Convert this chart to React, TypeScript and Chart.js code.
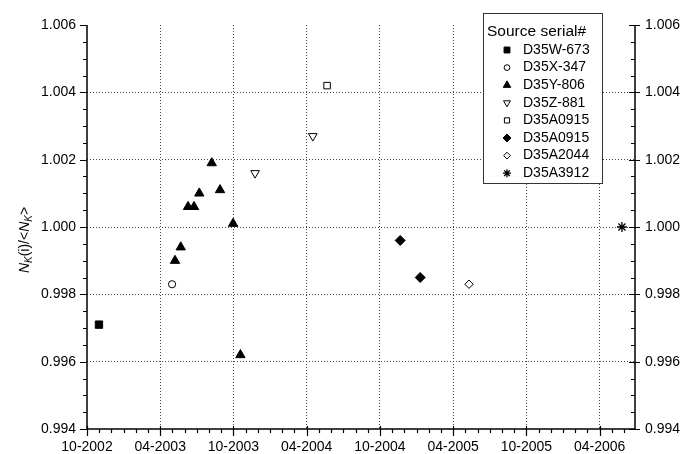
import React, { useEffect, useRef } from 'react';
import { Chart, registerables } from 'chart.js';
import { drawPoint } from 'chart.js/helpers';

Chart.register(...registerables);

// x values are months counted from October 2002
const xTickLabels = ['10-2002', '04-2003', '10-2003', '04-2004', '10-2004', '04-2005', '10-2005', '04-2006'];
const xMin = 0;
const xMax = 44.9;
const xMajorStep = 6;
const xMinorStep = 1;

const yMin = 0.994;
const yMax = 1.006;
const yMajorStep = 0.002;
const yMinorStep = 0.0005;

const seriesNames = ['D35W-673', 'D35X-347', 'D35Y-806', 'D35Z-881', 'D35A0915', 'D35A0915', 'D35A2044', 'D35A3912'];

const w673X = [0.98];
const w673Y = [0.9971];

const x347X = [6.97];
const x347Y = [0.9983];

const y806X = [7.21, 7.68, 8.28, 8.77, 9.2, 10.22, 10.9, 11.97, 12.57];
const y806Y = [0.999, 0.9994, 1.0006, 1.0006, 1.001, 1.0019, 1.0011, 1.0001, 0.9962];

const z881X = [13.77, 18.5];
const z881Y = [1.0016, 1.0027];

const a0915openX = [19.67];
const a0915openY = [1.0042];

const a0915fillX = [25.66, 27.3];
const a0915fillY = [0.9996, 0.9985];

const a2044X = [31.3];
const a2044Y = [0.9983];

const a3912X = [43.83];
const a3912Y = [1.0];

const pts = (xs: number[], ys: number[]) => xs.map((x, i) => ({ x, y: ys[i] }));

const FONT = '"Liberation Sans", Arial, Helvetica, sans-serif';

const near = (a: number, b: number) => Math.abs(a - b) < 1e-7;

const axesPlugin = {
  id: 'axesFrame',
  afterDatasetsDraw(chart: any) {
    const { ctx, chartArea } = chart;
    const { left, right, top, bottom } = chartArea;
    const xs = chart.scales.x;
    const ys = chart.scales.y;
    ctx.save();
    ctx.strokeStyle = '#000';
    ctx.lineWidth = 1.5;
    ctx.beginPath();
    ctx.moveTo(left, top);
    ctx.lineTo(left, bottom);
    ctx.lineTo(right, bottom);
    ctx.moveTo(right, top);
    ctx.lineTo(right, bottom);
    ctx.stroke();
    ctx.lineWidth = 1.2;
    ctx.beginPath();
    const nY = Math.round((yMax - yMin) / yMinorStep);
    const perMajorY = Math.round(yMajorStep / yMinorStep);
    for (let i = 0; i <= nY; i++) {
      const v = yMin + i * yMinorStep;
      const py = Math.round(ys.getPixelForValue(v)) + 0.5;
      const major = i % perMajorY === 0;
      // left axis: outward
      ctx.moveTo(left - (major ? 7 : 4), py);
      ctx.lineTo(left, py);
      // right axis: inward, majors both sides
      ctx.moveTo(right - (major ? 6 : 4), py);
      ctx.lineTo(right + (major ? 5 : 0), py);
    }
    const nX = Math.floor((xMax - xMin) / xMinorStep + 1e-6);
    const perMajorX = Math.round(xMajorStep / xMinorStep);
    for (let i = 0; i <= nX; i++) {
      const v = xMin + i * xMinorStep;
      const px = Math.round(xs.getPixelForValue(v)) + 0.5;
      const major = i % perMajorX === 0;
      ctx.moveTo(px, bottom - (major ? 3 : 0));
      ctx.lineTo(px, bottom + (major ? 7 : 4));
    }
    ctx.stroke();
    ctx.restore();
  },
};

const yTitlePlugin = {
  id: 'yTitle',
  afterDraw(chart: any) {
    const { ctx } = chart;
    const pieces = [
      { t: 'N', italic: true, sub: false },
      { t: 'K', italic: true, sub: true },
      { t: '(i)/<', italic: false, sub: false },
      { t: 'N', italic: true, sub: false },
      { t: 'K', italic: true, sub: true },
      { t: '>', italic: false, sub: false },
    ];
    const fontFor = (p: any) => `${p.italic ? 'italic ' : ''}${p.sub ? 10 : 14}px ${FONT}`;
    ctx.save();
    let total = 0;
    const widths = pieces.map((p) => {
      ctx.font = fontFor(p);
      const w = ctx.measureText(p.t).width;
      total += w;
      return w;
    });
    ctx.translate(29, 240);
    ctx.rotate(-Math.PI / 2);
    ctx.fillStyle = '#000';
    ctx.textBaseline = 'alphabetic';
    ctx.textAlign = 'left';
    let cx = -total / 2;
    pieces.forEach((p, i) => {
      ctx.font = fontFor(p);
      ctx.fillText(p.t, cx, p.sub ? 3 : 0);
      cx += widths[i];
    });
    ctx.restore();
  },
};

const legendPlugin = {
  id: 'boxLegend',
  afterDraw(chart: any) {
    const { ctx } = chart;
    const bx = 483.5, by = 13.5, bw = 119, bh = 170;
    ctx.save();
    ctx.fillStyle = '#fff';
    ctx.fillRect(bx, by, bw, bh);
    ctx.strokeStyle = '#333';
    ctx.lineWidth = 1;
    ctx.strokeRect(bx, by, bw, bh);
    ctx.fillStyle = '#000';
    ctx.textBaseline = 'middle';
    ctx.textAlign = 'left';
    ctx.font = `15.5px ${FONT}`;
    ctx.fillText('Source serial#', 487, 32);
    ctx.font = `14px ${FONT}`;
    chart.data.datasets.forEach((ds: any, i: number) => {
      const cy = 50 + i * 17.6;
      ctx.fillStyle = '#000';
      ctx.fillText(ds.label, 523, cy);
      ctx.save();
      ctx.fillStyle = ds.pointBackgroundColor;
      ctx.strokeStyle = ds.pointBorderColor;
      ctx.lineWidth = ds.pointBorderWidth;
      drawPoint(ctx, { pointStyle: ds.pointStyle, rotation: ds.pointRotation || 0, radius: ds.pointRadius * 0.8, borderWidth: ds.pointBorderWidth }, 507, cy);
      ctx.restore();
    });
    ctx.restore();
  },
};

function makeDataset(label: string, data: any[], style: string, radius: number, filled: boolean, rotation = 0, bw = 1) {
  return {
    label,
    data,
    pointStyle: style,
    pointRadius: radius,
    pointHoverRadius: radius,
    pointRotation: rotation,
    pointBackgroundColor: filled ? '#000' : '#fff',
    pointBorderColor: '#000',
    pointBorderWidth: bw,
    showLine: false,
  };
}

export default function App() {
  const canvasRef = useRef<HTMLCanvasElement | null>(null);

  useEffect(() => {
    document.body.style.margin = '0';
    const canvas = canvasRef.current;
    if (!canvas) return;
    const yTicks = {
      stepSize: yMajorStep,
      autoSkip: false,
      includeBounds: false,
      color: '#000',
      font: { family: FONT, size: 14 },
      callback: (v: any) => Number(v).toFixed(3),
    };
    const chart = new Chart(canvas, {
      type: 'scatter',
      data: {
        datasets: [
          makeDataset(seriesNames[0], pts(w673X, w673Y), 'rect', 5.2, true),
          makeDataset(seriesNames[1], pts(x347X, x347Y), 'circle', 3.6, false),
          makeDataset(seriesNames[2], pts(y806X, y806Y), 'triangle', 5.4, true),
          makeDataset(seriesNames[3], pts(z881X, z881Y), 'triangle', 5, false, 180),
          makeDataset(seriesNames[4], pts(a0915openX, a0915openY), 'rect', 4.6, false),
          makeDataset(seriesNames[5], pts(a0915fillX, a0915fillY), 'rectRot', 5, true),
          makeDataset(seriesNames[6], pts(a2044X, a2044Y), 'rectRot', 4.2, false),
          makeDataset(seriesNames[7], pts(a3912X, a3912Y), 'star', 5, false, 0, 1.3),
        ] as any,
      },
      plugins: [axesPlugin, legendPlugin, yTitlePlugin],
      options: {
        responsive: false,
        animation: false,
        events: [],
        layout: { padding: { top: 25, left: 0, right: 0, bottom: 0 } },
        plugins: {
          legend: { display: false },
          tooltip: { enabled: false },
          title: { display: false },
        },
        scales: {
          x: {
            type: 'linear',
            position: 'bottom',
            min: xMin,
            max: xMax,
            afterFit: (s: any) => {
              s.height = 25;
            },
            border: { display: false, dash: [1, 2] },
            grid: {
              drawTicks: false,
              lineWidth: 1,
              color: (c: any) => (c.tick && near(c.tick.value, xMin) ? 'rgba(0,0,0,0)' : '#444'),
            },
            ticks: {
              stepSize: xMajorStep,
              autoSkip: false,
              includeBounds: false,
              maxRotation: 0,
              padding: 10,
              color: '#000',
              font: { family: FONT, size: 14 },
              callback: (v: any) => xTickLabels[Math.round((Number(v) - xMin) / xMajorStep)] ?? '',
            },
          },
          y: {
            type: 'linear',
            position: 'left',
            min: yMin,
            max: yMax,
            afterFit: (s: any) => {
              s.width = 87;
            },
            border: { display: false, dash: [1, 2] },
            grid: {
              drawTicks: false,
              lineWidth: 1,
              color: (c: any) =>
                c.tick && (near(c.tick.value, yMin) || near(c.tick.value, yMax)) ? 'rgba(0,0,0,0)' : '#444',
            },
            ticks: { ...yTicks, padding: 11 },
          },
          y2: {
            type: 'linear',
            position: 'right',
            min: yMin,
            max: yMax,
            afterFit: (s: any) => {
              s.width = 46;
            },
            border: { display: false },
            grid: { display: false, drawTicks: false },
            ticks: { ...yTicks, padding: 10 },
          },
        },
      } as any,
    });
    return () => {
      chart.destroy();
    };
  }, []);

  return (
    <div style={{ width: 681, height: 454 }}>
      <canvas ref={canvasRef} width={681} height={454} style={{ display: 'block' }} />
    </div>
  );
}
